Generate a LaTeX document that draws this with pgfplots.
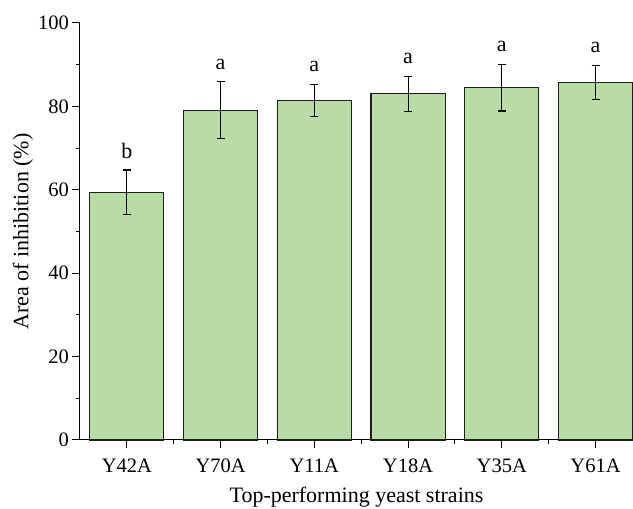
\documentclass[border=0pt]{standalone}
\usepackage{fontspec}
\setmainfont{Liberation Serif}
\usepackage{pgfplots}
\pgfplotsset{compat=1.18}
\definecolor{barfill}{RGB}{185,220,166}
\definecolor{edge}{RGB}{30,30,30}
\pgfplotstableread{
x y err lab
0 59.4 5.35 b
1 79.1 6.8 a
2 81.5 3.85 a
3 83.0 4.2 a
4 84.5 5.6 a
5 85.8 4.05 a
}\datatable
\begin{document}
\begin{tikzpicture}
\path[use as bounding box] (-80pt,-69pt) rectangle (553pt,440pt);
\begin{axis}[
  at={(0,0)}, anchor=south west,
  scale only axis, width=553pt, height=417pt,
  xmin=-0.5, xmax=5.4, ymin=0, ymax=100,
  axis x line*=bottom, axis y line*=left,
  axis line style={line width=1pt, black},
  tick align=outside,
  major tick length=7.5pt, minor tick length=4pt,
  tick style={line width=1pt, black},
  xtick={0,1,2,3,4,5},
  xticklabels={Y42A,Y70A,Y11A,Y18A,Y35A,Y61A},
  minor xtick={0.5,1.5,2.5,3.5,4.5},
  ytick={0,20,40,60,80,100},
  minor ytick={10,30,50,70,90},
  /pgf/number format/assume math mode=true,
  ticklabel style={font=\fontsize{20.5}{22}\selectfont},
  label style={font=\fontsize{22}{24}\selectfont},
  xticklabel style={anchor=base, yshift=-24.5pt},
  xlabel={Top-performing yeast strains},
  ylabel={Area of inhibition (\%)},
  xlabel style={at={(axis description cs:0.5,-0.151)}, anchor=base},
  ylabel style={at={(axis description cs:-0.103,0.5)}, anchor=center},
  clip=false,
]
\addplot[ybar, bar width=0.79, fill=barfill, draw=edge, line width=1.1pt,
  error bars/.cd, y dir=both, y explicit,
  error bar style={line width=1.1pt, black},
  error mark options={rotate=90, mark size=4pt, line width=1.1pt, black}]
  table[x=x, y=y, y error=err] {\datatable};
\node[anchor=base, font=\fontsize{22}{24}\selectfont] at (axis cs:0,67.6) {b};
\node[anchor=base, font=\fontsize{22}{24}\selectfont] at (axis cs:1,88.9) {a};
\node[anchor=base, font=\fontsize{22}{24}\selectfont] at (axis cs:2,88.4) {a};
\node[anchor=base, font=\fontsize{22}{24}\selectfont] at (axis cs:3,90.2) {a};
\node[anchor=base, font=\fontsize{22}{24}\selectfont] at (axis cs:4,93.1) {a};
\node[anchor=base, font=\fontsize{22}{24}\selectfont] at (axis cs:5,92.9) {a};
\end{axis}
\end{tikzpicture}
\end{document}
